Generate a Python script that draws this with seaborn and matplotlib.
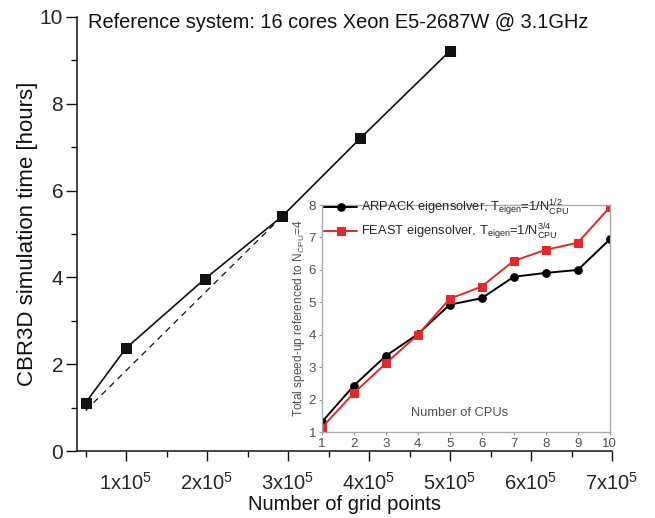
import matplotlib
matplotlib.use("Agg")
import matplotlib.pyplot as plt
import seaborn as sns
from matplotlib.ticker import MultipleLocator

# main chart: simulation time vs grid size
grid_points = [0.5e5, 1.0e5, 1.97e5, 2.93e5, 3.89e5, 5.0e5]
sim_hours = [1.11, 2.37, 3.96, 5.41, 7.20, 9.22]
# ideal linear scaling reference (dashed)
ideal_x = [0.5e5, 2.93e5]
ideal_y = [0.93, 5.41]
xtick_vals = [1e5, 2e5, 3e5, 4e5, 5e5, 6e5, 7e5]
xtick_labels = ["1x10$^5$", "2x10$^5$", "3x10$^5$", "4x10$^5$", "5x10$^5$", "6x10$^5$", "7x10$^5$"]

# inset: speed-up vs number of CPUs
n_cpus = [1, 2, 3, 4, 5, 6, 7, 8, 9, 10]
arpack_speedup = [1.31, 2.43, 3.35, 4.02, 4.93, 5.13, 5.79, 5.91, 6.0, 6.94]
feast_speedup = [1.14, 2.2, 3.12, 4.0, 5.11, 5.49, 6.28, 6.62, 6.84, 7.93]

sns.set_style("ticks")
plt.rcParams["font.family"] = ["Liberation Sans", "DejaVu Sans"]
plt.rcParams["mathtext.fontset"] = "custom"
plt.rcParams["mathtext.rm"] = "Liberation Sans"
plt.rcParams["mathtext.it"] = "Liberation Sans"

fig = plt.figure(figsize=(6.55, 5.18), dpi=100)
ax = fig.add_axes([0.1176, 0.1293, 0.8168, 0.838])

sns.lineplot(x=grid_points, y=sim_hours, ax=ax, color="#111111", linewidth=1.2,
             marker="s", markersize=7, markeredgecolor="#111111")
sns.lineplot(x=ideal_x, y=ideal_y, ax=ax, color="#111111", linewidth=0.9, linestyle=(0, (5, 4)))

ax.set_xlim(0.395e5, 7e5)
ax.set_ylim(0, 10)
ax.set_xticks(xtick_vals)
ax.set_xticklabels(xtick_labels)
ax.xaxis.set_minor_locator(MultipleLocator(0.5e5))
ax.yaxis.set_major_locator(MultipleLocator(2))
ax.yaxis.set_minor_locator(MultipleLocator(1))
ax.tick_params(axis="x", which="major", labelsize=14.5, length=7, width=1, color="#111111", pad=8)
ax.tick_params(axis="y", which="major", labelsize=15, length=8, width=1, color="#111111", pad=2)
ax.tick_params(which="minor", length=4, width=1, color="#111111")
for s in ["top", "right"]:
    ax.spines[s].set_visible(False)
for s in ["left", "bottom"]:
    ax.spines[s].set_color("#111111")
    ax.spines[s].set_linewidth(1.1)
ax.set_xlabel("Number of grid points", fontsize=14.5, labelpad=1, color="#111111")
ax.set_ylabel("CBR3D simulation time [hours]", fontsize=16, labelpad=1.5, color="#111111")
ax.text(0.021, 0.988, "Reference system: 16 cores Xeon E5-2687W @ 3.1GHz",
        transform=ax.transAxes, fontsize=14.4, va="center", ha="left", color="#111111")

# inset
ins = fig.add_axes([0.491, 0.1654, 0.440, 0.4388])
sns.lineplot(x=n_cpus, y=arpack_speedup, ax=ins, color="black", linewidth=1.4,
             marker="o", markersize=5.5, markeredgecolor="black",
             label="ARPACK eigensolver, T$_{eigen}$=1/N$_{CPU}^{1/2}$")
sns.lineplot(x=n_cpus, y=feast_speedup, ax=ins, color="#e3282a", linewidth=1.4,
             marker="s", markersize=5.5, markeredgecolor="#e3282a",
             label="FEAST eigensolver, T$_{eigen}$=1/N$_{CPU}^{3/4}$")
ins.set_xlim(1, 10)
ins.set_ylim(1, 8)
ins.set_xticks(n_cpus)
ins.set_yticks([1, 2, 3, 4, 5, 6, 7, 8])
ins.tick_params(labelsize=9.5, labelcolor="#505050", color="#999999", length=2.5, direction="out", pad=1.5)
for s in ins.spines.values():
    s.set_color("#aaaaaa")
    s.set_linewidth(1.0)
ins.set_ylabel("Total speed-up referenced to N$_{CPU}$=4", fontsize=8.6, color="#505050", labelpad=1)
ins.text(0.48, 0.085, "Number of CPUs", transform=ins.transAxes, fontsize=9.3,
         ha="center", va="center", color="#505050")
ins.legend(loc="upper left", bbox_to_anchor=(-0.01, 1.057), frameon=False, fontsize=9.3,
           handlelength=2.6, handletextpad=0.3, labelspacing=0.3, borderaxespad=0)

fig.savefig("out.png", dpi=100)
